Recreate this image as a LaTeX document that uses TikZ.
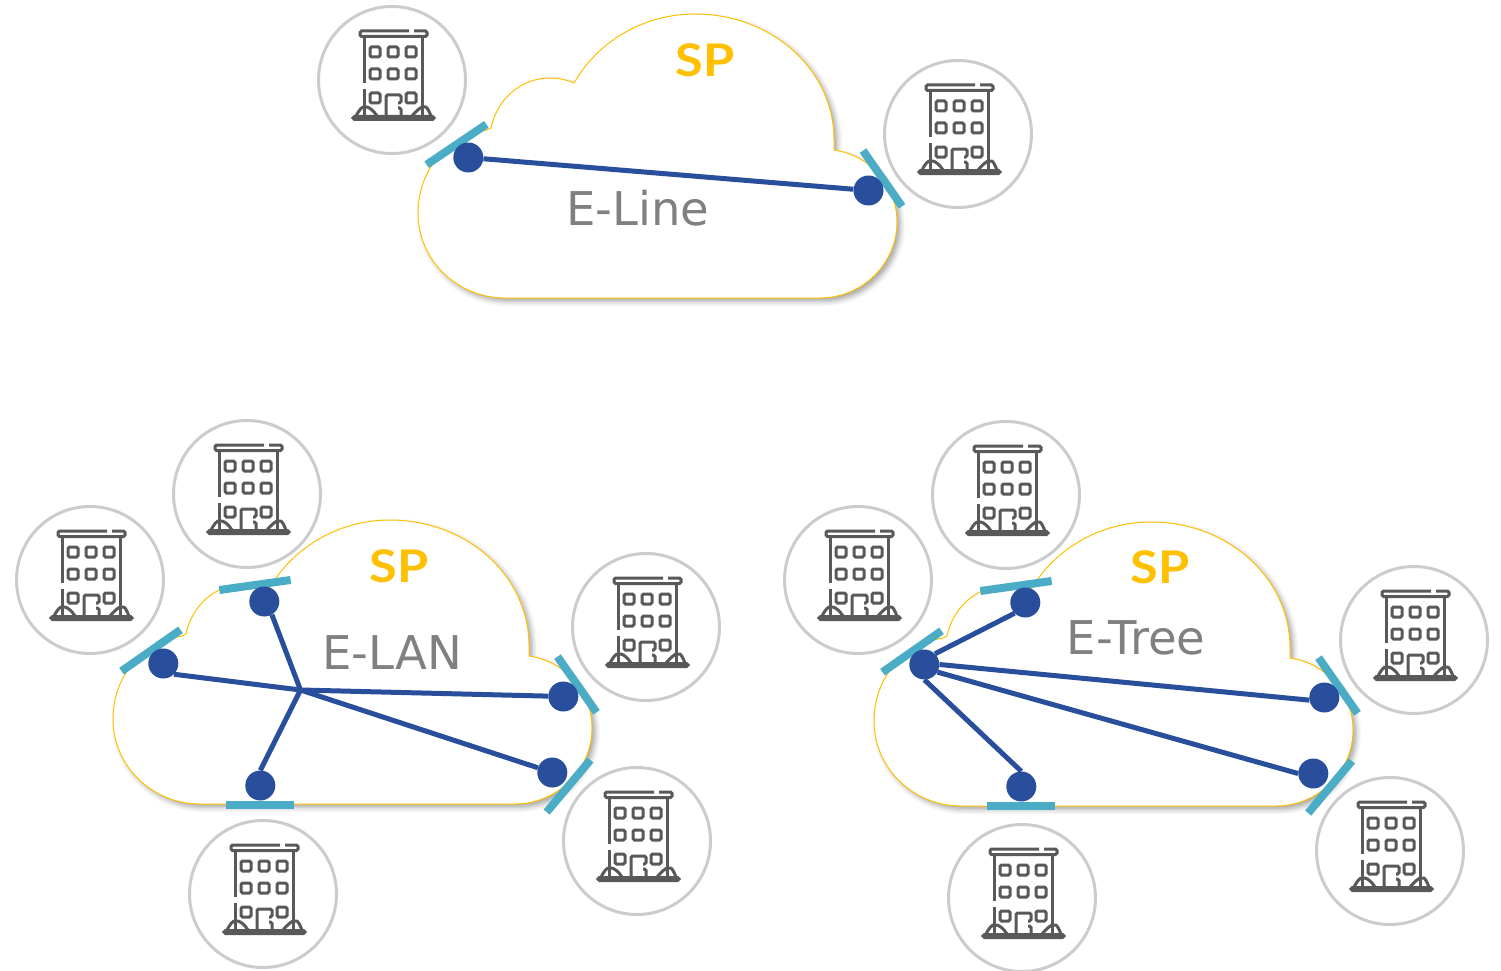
\documentclass[tikz,border=0pt]{standalone}
\usepackage{fontspec}
\setmainfont{DejaVu Sans}
\newfontfamily\spfont{Lato}
\usetikzlibrary{shadows.blur}
\definecolor{cloudline}{HTML}{FFC000}
\definecolor{barblue}{HTML}{4BACC6}
\definecolor{linkblue}{HTML}{284E9C}
\definecolor{iconline}{HTML}{595959}
\tikzset{
	site/.style={circle,draw=black!20,line width=3,fill=white,minimum size=147,inner sep=0},
	uni/.style={circle,fill=linkblue,minimum size=30,inner sep=0},
	unibar/.style={fill=barblue,minimum width=72,minimum height=8,inner sep=0},
	shortbar/.style={unibar,minimum width=68},
	evc/.style={draw=linkblue,line width=5},
	sptext/.style={text=cloudline,font=\spfont\bfseries\fontsize{45}{45}\selectfont,inner sep=0,xscale=1.12},
	svctext/.style={text=black!50,font=\fontsize{46.5}{46.5}\selectfont,inner sep=0},
	cloud/.pic={
		\draw[draw=cloudline,line width=1,fill=white,blur shadow={shadow xshift=3.5,shadow yshift=-3.5,shadow blur radius=5,shadow opacity=35}]
			(87,284) -- (402,284)
			.. controls (444,284) and (479,250) .. (479,208)
			.. controls (479,172) and (452,141) .. (416,136)
			-- (416,126)
			.. controls (416,56) and (354,0) .. (277,0)
			.. controls (226,0) and (180,27) .. (156,69)
			.. controls (149,66) and (141,64) .. (132,64)
			.. controls (103,64) and (79,85) .. (73,114)
			-- (69,116)
			.. controls (27,123) and (0,158) .. (0,199)
			.. controls (0,246) and (39,284) .. (87,284) -- cycle;
	},
	building/.pic={
		\begin{scope}[draw=iconline,line width=3,rounded corners=1.5,yshift=-1]
			\draw (17,-50) -- (-32,-50) -- (-32,-44.5) -- (35,-44.5) -- (35,-50) -- (22,-50);
			\draw (-28,-44) -- (-28,2);
			\draw (-28,8) -- (-28,35);
			\draw (30,-44) -- (30,35);
			\draw (-39,35.5) rectangle (42,38.5);
			\draw (-22,-34) rectangle (-12,-24);
			\draw (-4,-34) rectangle (6,-24);
			\draw (14,-34) rectangle (24,-24);
			\draw (-22,-12) rectangle (-12,-2);
			\draw (-4,-12) rectangle (6,-2);
			\draw (14,-12) rectangle (24,-2);
			\draw (-22,12) rectangle (-12,22);
			\draw (14,12) rectangle (24,22);
			\draw (-6,35) -- (-6,14) -- (9,14) -- (9,22) -- (6,22);
			\draw (6,27) -- (9,27) -- (9,35);
			\draw (-36,35) .. controls (-33,29) and (-30,26) .. (-27,26) .. controls (-23,26) and (-18,30) .. (-15,35);
			\draw (20,35) .. controls (24,30) and (29,26) .. (32,26) .. controls (35,26) and (37,30) .. (39,35);
		\end{scope}
	}
}
\begin{document}
\begin{tikzpicture}[x=1pt,y=-1pt]
	\useasboundingbox (0,0) rectangle (1501,971);

	\pic at (418,14) {cloud};
	\node[sptext] (spline) at (705,60) {SP};
	\node[svctext] (nameline) at (638,208) {E-Line};
	\node[site] (sitelinea) at (392,80) {};
	\pic at (sitelinea) {building};
	\node[site] (sitelineb) at (958,134) {};
	\pic at (sitelineb) {building};
	\node[unibar,rotate=34] (barlinea) at (456.5,144.5) {};
	\node[shortbar,rotate=-55] (barlineb) at (882.5,178.5) {};
	\node[uni] (unilinea) at (468.3,157.5) {};
	\node[uni] (unilineb) at (868.5,190.5) {};
	\draw[evc] (unilinea) -- (unilineb);

	\pic at (113,520) {cloud};
	\node[sptext] (splan) at (399,566) {SP};
	\node[svctext] (namelan) at (392,653) {E-LAN};
	\node[site] (sitelana) at (90,580) {};
	\pic at (sitelana) {building};
	\node[site] (sitelanb) at (247,494) {};
	\pic at (sitelanb) {building};
	\node[site] (sitelanc) at (646,627) {};
	\pic at (sitelanc) {building};
	\node[site] (siteland) at (637,841) {};
	\pic at (siteland) {building};
	\node[site] (sitelane) at (263,894) {};
	\pic at (sitelane) {building};
	\node[unibar,rotate=35] (barlana) at (151,650.5) {};
	\node[unibar,rotate=8] (barlanb) at (255,585) {};
	\node[shortbar,rotate=-55] (barlanc) at (577,684.5) {};
	\node[shortbar,rotate=50] (barland) at (568.5,786) {};
	\node[shortbar] (barlane) at (259.5,805) {};
	\node[uni] (unilana) at (163.3,663.5) {};
	\node[uni] (unilanb) at (264.3,601.5) {};
	\node[uni] (unilanc) at (563.3,696.5) {};
	\node[uni] (uniland) at (552.3,772.5) {};
	\node[uni] (unilane) at (260.3,785.5) {};
	\coordinate (hublan) at (300.5,690);
	\draw[evc] (unilana.-45) -- (hublan);
	\draw[evc] (unilanb.-60) -- (hublan);
	\draw[evc] (unilanc) -- (hublan);
	\draw[evc] (uniland) -- (hublan);
	\draw[evc] (unilane.north) -- (hublan);

	\pic at (874,522) {cloud};
	\node[sptext] (sptree) at (1160,567) {SP};
	\node[svctext] (nametree) at (1136,638) {E-Tree};
	\node[site] (sitetreea) at (858,580) {};
	\pic at (sitetreea) {building};
	\node[site] (sitetreeb) at (1006,495) {};
	\pic at (sitetreeb) {building};
	\node[site] (sitetreec) at (1414,640) {};
	\pic at (sitetreec) {building};
	\node[site] (sitetreed) at (1390,851) {};
	\pic at (sitetreed) {building};
	\node[site] (sitetreee) at (1022,898) {};
	\pic at (sitetreee) {building};
	\node[unibar,rotate=35] (bartreea) at (912,651.5) {};
	\node[unibar,rotate=8] (bartreeb) at (1016,586) {};
	\node[shortbar,rotate=-55] (bartreec) at (1338,685.5) {};
	\node[shortbar,rotate=50] (bartreed) at (1330,787) {};
	\node[shortbar] (bartreee) at (1020.5,806) {};
	\node[uni] (unitreea) at (924.3,664.5) {};
	\node[uni] (unitreeb) at (1025.3,602.5) {};
	\node[uni] (unitreec) at (1324.3,697.5) {};
	\node[uni] (unitreed) at (1313.3,773.5) {};
	\node[uni] (unitreee) at (1021.3,786.5) {};
	\draw[evc] (unitreea.45) -- (unitreeb.-135);
	\draw[evc] (unitreea.east) -- (unitreec.-170);
	\draw[evc] (unitreea.-30) -- (unitreed.west);
	\draw[evc] (unitreea.south) -- (unitreee.north);
\end{tikzpicture}
\end{document}
